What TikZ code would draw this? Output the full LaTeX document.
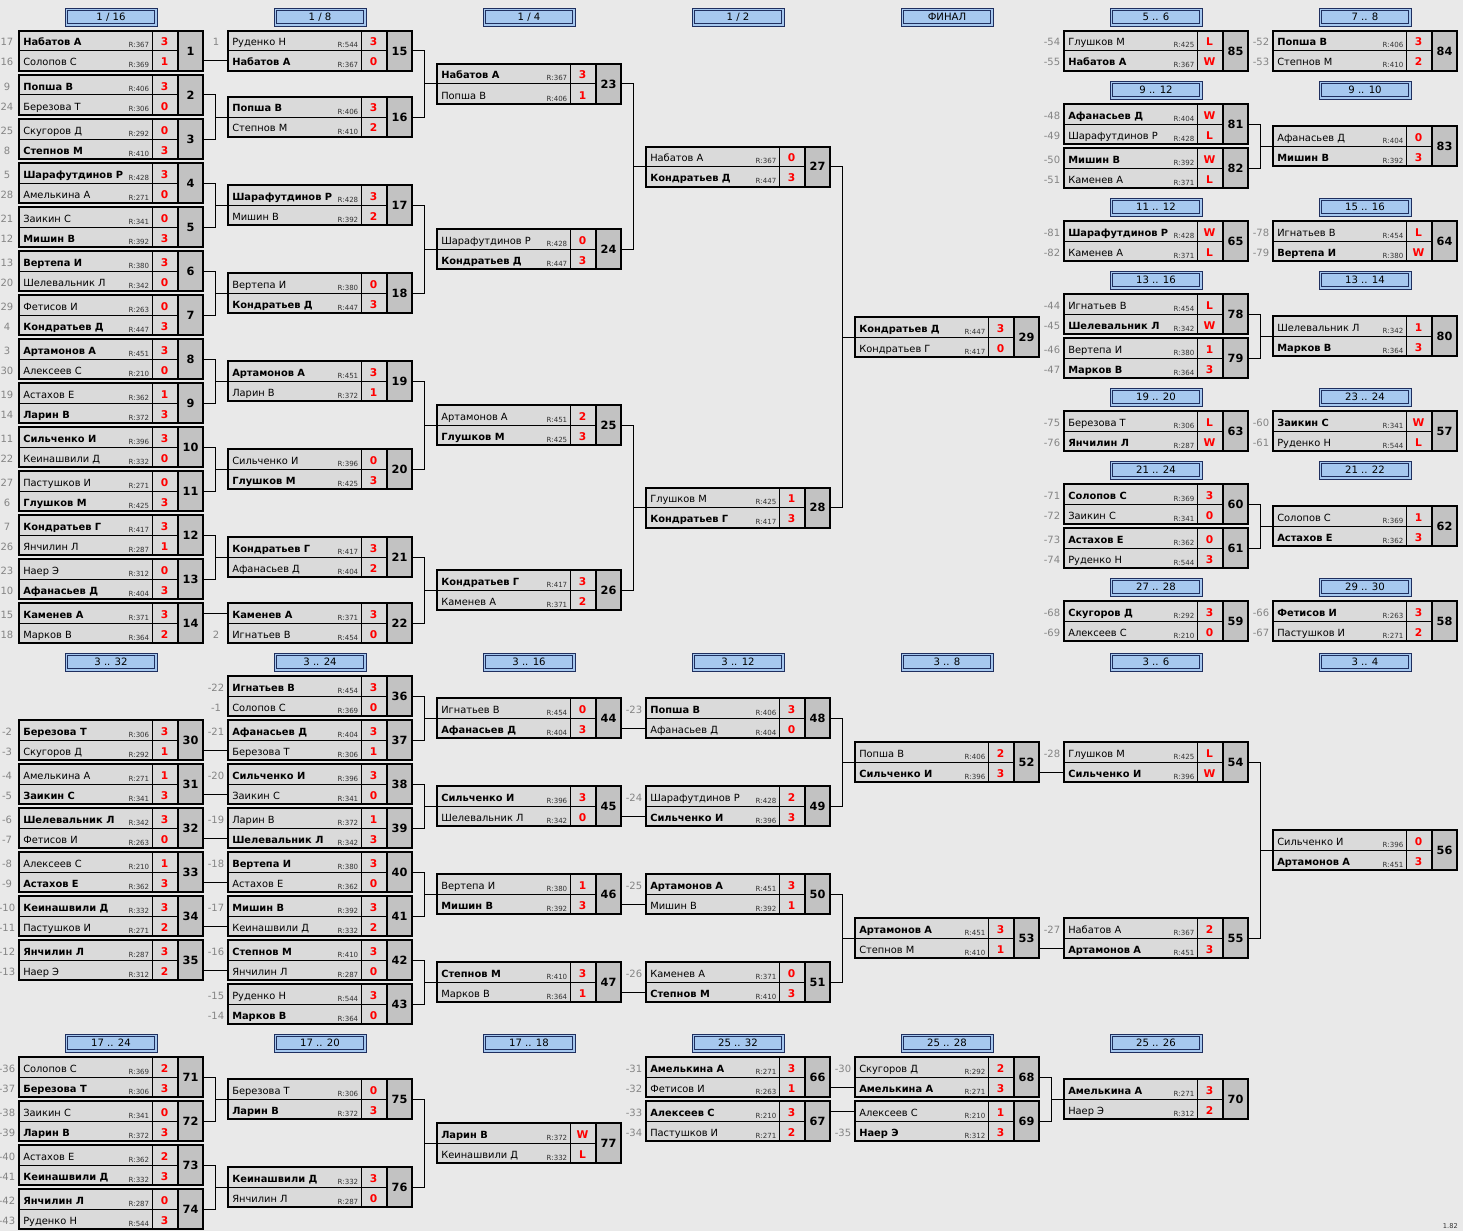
\documentclass[tikz,border=0pt]{standalone}
\usepackage{fontspec}
\setmainfont{DejaVu Sans}
\definecolor{bgc}{HTML}{E9E9E9}
\definecolor{rowc}{HTML}{DADADA}
\definecolor{numc}{HTML}{C2C2C2}
\definecolor{hdrfill}{HTML}{A6C8EF}
\definecolor{hdrline}{HTML}{1F2F5F}
\definecolor{lblc}{HTML}{858585}
\definecolor{rtc}{HTML}{333333}
\definecolor{scc}{HTML}{FF0000}
\tikzset{
  nm/.style={anchor=base west, inner sep=0pt, font=\fontsize{7.4}{9}\selectfont},
  nmb/.style={anchor=base west, inner sep=0pt, font=\fontsize{7.4}{9}\selectfont\bfseries},
  rt/.style={anchor=base east, inner sep=0pt, text=rtc, font=\fontsize{5.3}{6}\selectfont},
  sc/.style={anchor=base, inner sep=0pt, text=scc, font=\fontsize{8}{9}\selectfont\bfseries},
  numtxt/.style={anchor=center, inner sep=0pt, font=\fontsize{8.5}{9}\selectfont\bfseries},
  lb/.style={anchor=base, inner sep=0pt, text=lblc, font=\fontsize{7.5}{9}\selectfont},
  hd/.style={anchor=center, inner sep=0pt, font=\fontsize{7.6}{9}\selectfont},
  conn/.style={line width=0.75pt},
  thin/.style={line width=0.75pt},
  thick/.style={line width=1.5pt},
}
% row: #1 top, #2 prefix, #3 style, #4 label, #5 name, #6 rating, #7 score
\newcommand\mrow[7]{%
  \node[#3] (#2n) at (4,#1+15) {#5};
  \node[rt] (#2r) at (130.5,#1+17) {R:#6};
  \node[sc] (#2s) at (145.5,#1+15) {#7};
  \if\relax\detokenize{#4}\relax\else\node[lb] (#2l) at (-12,#1+15) {#4};\fi
}
% match: #1 x, #2 y, #3 number, #4 row1 spec, #5 row2 spec
\newcommand\mt[5]{%
  \begin{scope}[shift={(#1,#2)}]
    \fill[rowc] (0,0) rectangle (159,40);
    \fill[numc] (159,0) rectangle (184,40);
    \draw[thin] (0,20) -- (159,20) (133,0) -- (133,40);
    \draw[thick] (159,0) -- (159,40);
    \draw[thick] (0,0) rectangle (184,40);
    \node[numtxt] (m#3) at (171.5,20) {#3};
    \coordinate (m#3o) at (184,20);
    \coordinate (m#3a) at (0,10);
    \coordinate (m#3b) at (0,30);
    \coordinate (m#3c) at (0,20);
    \mrow{0}{m#3t}#4
    \mrow{20}{m#3u}#5
  \end{scope}}
% header: #1 name, #2 cx, #3 cy, #4 text
\newcommand\hdr[4]{%
  \fill[hdrfill] (#2-46,#3-9) rectangle (#2+46,#3+9);
  \draw[hdrline, line width=0.7pt] (#2-46,#3-9) rectangle (#2+46,#3+9);
  \draw[hdrline, line width=0.7pt] (#2-43.5,#3-6.5) rectangle (#2+43.5,#3+6.5);
  \node[hd] (#1) at (#2,#3) {#4};}
% pair join
\newcommand\pj[3]{%
  \draw[conn] (m#1o) -- ++(12.5,0) |- (m#3c);
  \draw[conn] (m#2o) -- ++(12.5,0) |- (m#3c);}
% single straight join: source, row (a/b), target
\newcommand\sj[3]{\draw[conn] (m#3#2 -| m#1o) -- (m#3#2);}

\begin{document}
\begin{tikzpicture}[x=0.75pt,y=-0.75pt]
\fill[bgc] (0,0) rectangle (1463,1231);
\useasboundingbox (0,0) rectangle (1463,1231);

% headers
\hdr{h1}{111}{17}{1 / 16}
\hdr{h2}{320}{17}{1 / 8}
\hdr{h3}{529}{17}{1 / 4}
\hdr{h4}{738}{17}{1 / 2}
\hdr{h5}{947}{17}{ФИНАЛ}
\hdr{h6}{1156}{17}{5 .. 6}
\hdr{h7}{1365}{17}{7 .. 8}
\hdr{h8}{1156}{90}{9 .. 12}
\hdr{h9}{1365}{90}{9 .. 10}
\hdr{h10}{1156}{207}{11 .. 12}
\hdr{h11}{1365}{207}{15 .. 16}
\hdr{h12}{1156}{280}{13 .. 16}
\hdr{h13}{1365}{280}{13 .. 14}
\hdr{h14}{1156}{397}{19 .. 20}
\hdr{h15}{1365}{397}{23 .. 24}
\hdr{h16}{1156}{470}{21 .. 24}
\hdr{h17}{1365}{470}{21 .. 22}
\hdr{h18}{1156}{587}{27 .. 28}
\hdr{h19}{1365}{587}{29 .. 30}
\hdr{h20}{111}{662}{3 .. 32}
\hdr{h21}{320}{662}{3 .. 24}
\hdr{h22}{529}{662}{3 .. 16}
\hdr{h23}{738}{662}{3 .. 12}
\hdr{h24}{947}{662}{3 .. 8}
\hdr{h25}{1156}{662}{3 .. 6}
\hdr{h26}{1365}{662}{3 .. 4}
\hdr{h27}{111}{1043}{17 .. 24}
\hdr{h28}{320}{1043}{17 .. 20}
\hdr{h29}{529}{1043}{17 .. 18}
\hdr{h30}{738}{1043}{25 .. 32}
\hdr{h31}{947}{1043}{25 .. 28}
\hdr{h32}{1156}{1043}{25 .. 26}

% main bracket column 1
\mt{19}{31}{1}{{nmb}{17}{Набатов А}{367}{3}}{{nm}{16}{Солопов С}{369}{1}}
\mt{19}{75}{2}{{nmb}{9}{Попша В}{406}{3}}{{nm}{24}{Березова Т}{306}{0}}
\mt{19}{119}{3}{{nm}{25}{Скугоров Д}{292}{0}}{{nmb}{8}{Степнов М}{410}{3}}
\mt{19}{163}{4}{{nmb}{5}{Шарафутдинов Р}{428}{3}}{{nm}{28}{Амелькина А}{271}{0}}
\mt{19}{207}{5}{{nm}{21}{Заикин С}{341}{0}}{{nmb}{12}{Мишин В}{392}{3}}
\mt{19}{251}{6}{{nmb}{13}{Вертепа И}{380}{3}}{{nm}{20}{Шелевальник Л}{342}{0}}
\mt{19}{295}{7}{{nm}{29}{Фетисов И}{263}{0}}{{nmb}{4}{Кондратьев Д}{447}{3}}
\mt{19}{339}{8}{{nmb}{3}{Артамонов А}{451}{3}}{{nm}{30}{Алексеев С}{210}{0}}
\mt{19}{383}{9}{{nm}{19}{Астахов Е}{362}{1}}{{nmb}{14}{Ларин В}{372}{3}}
\mt{19}{427}{10}{{nmb}{11}{Сильченко И}{396}{3}}{{nm}{22}{Кеинашвили Д}{332}{0}}
\mt{19}{471}{11}{{nm}{27}{Пастушков И}{271}{0}}{{nmb}{6}{Глушков М}{425}{3}}
\mt{19}{515}{12}{{nmb}{7}{Кондратьев Г}{417}{3}}{{nm}{26}{Янчилин Л}{287}{1}}
\mt{19}{559}{13}{{nm}{23}{Наер Э}{312}{0}}{{nmb}{10}{Афанасьев Д}{404}{3}}
\mt{19}{603}{14}{{nmb}{15}{Каменев А}{371}{3}}{{nm}{18}{Марков В}{364}{2}}
% column 2
\mt{228}{31}{15}{{nm}{1}{Руденко Н}{544}{3}}{{nmb}{}{Набатов А}{367}{0}}
\mt{228}{97}{16}{{nmb}{}{Попша В}{406}{3}}{{nm}{}{Степнов М}{410}{2}}
\mt{228}{185}{17}{{nmb}{}{Шарафутдинов Р}{428}{3}}{{nm}{}{Мишин В}{392}{2}}
\mt{228}{273}{18}{{nm}{}{Вертепа И}{380}{0}}{{nmb}{}{Кондратьев Д}{447}{3}}
\mt{228}{361}{19}{{nmb}{}{Артамонов А}{451}{3}}{{nm}{}{Ларин В}{372}{1}}
\mt{228}{449}{20}{{nm}{}{Сильченко И}{396}{0}}{{nmb}{}{Глушков М}{425}{3}}
\mt{228}{537}{21}{{nmb}{}{Кондратьев Г}{417}{3}}{{nm}{}{Афанасьев Д}{404}{2}}
\mt{228}{603}{22}{{nmb}{}{Каменев А}{371}{3}}{{nm}{2}{Игнатьев В}{454}{0}}
% column 3
\mt{437}{64}{23}{{nmb}{}{Набатов А}{367}{3}}{{nm}{}{Попша В}{406}{1}}
\mt{437}{229}{24}{{nm}{}{Шарафутдинов Р}{428}{0}}{{nmb}{}{Кондратьев Д}{447}{3}}
\mt{437}{405}{25}{{nm}{}{Артамонов А}{451}{2}}{{nmb}{}{Глушков М}{425}{3}}
\mt{437}{570}{26}{{nmb}{}{Кондратьев Г}{417}{3}}{{nm}{}{Каменев А}{371}{2}}
% column 4
\mt{646}{146.5}{27}{{nm}{}{Набатов А}{367}{0}}{{nmb}{}{Кондратьев Д}{447}{3}}
\mt{646}{487.5}{28}{{nm}{}{Глушков М}{425}{1}}{{nmb}{}{Кондратьев Г}{417}{3}}
% final
\mt{855}{317}{29}{{nmb}{}{Кондратьев Д}{447}{3}}{{nm}{}{Кондратьев Г}{417}{0}}

% right side column 6
\mt{1064}{31}{85}{{nm}{-54}{Глушков М}{425}{L}}{{nmb}{-55}{Набатов А}{367}{W}}
\mt{1064}{104}{81}{{nmb}{-48}{Афанасьев Д}{404}{W}}{{nm}{-49}{Шарафутдинов Р}{428}{L}}
\mt{1064}{148}{82}{{nmb}{-50}{Мишин В}{392}{W}}{{nm}{-51}{Каменев А}{371}{L}}
\mt{1064}{221}{65}{{nmb}{-81}{Шарафутдинов Р}{428}{W}}{{nm}{-82}{Каменев А}{371}{L}}
\mt{1064}{294}{78}{{nm}{-44}{Игнатьев В}{454}{L}}{{nmb}{-45}{Шелевальник Л}{342}{W}}
\mt{1064}{338}{79}{{nm}{-46}{Вертепа И}{380}{1}}{{nmb}{-47}{Марков В}{364}{3}}
\mt{1064}{411}{63}{{nm}{-75}{Березова Т}{306}{L}}{{nmb}{-76}{Янчилин Л}{287}{W}}
\mt{1064}{484}{60}{{nmb}{-71}{Солопов С}{369}{3}}{{nm}{-72}{Заикин С}{341}{0}}
\mt{1064}{528}{61}{{nmb}{-73}{Астахов Е}{362}{0}}{{nm}{-74}{Руденко Н}{544}{3}}
\mt{1064}{601}{59}{{nmb}{-68}{Скугоров Д}{292}{3}}{{nm}{-69}{Алексеев С}{210}{0}}
% right side column 7
\mt{1273}{31}{84}{{nmb}{-52}{Попша В}{406}{3}}{{nm}{-53}{Степнов М}{410}{2}}
\mt{1273}{126}{83}{{nm}{}{Афанасьев Д}{404}{0}}{{nmb}{}{Мишин В}{392}{3}}
\mt{1273}{221}{64}{{nm}{-78}{Игнатьев В}{454}{L}}{{nmb}{-79}{Вертепа И}{380}{W}}
\mt{1273}{316}{80}{{nm}{}{Шелевальник Л}{342}{1}}{{nmb}{}{Марков В}{364}{3}}
\mt{1273}{411}{57}{{nmb}{-60}{Заикин С}{341}{W}}{{nm}{-61}{Руденко Н}{544}{L}}
\mt{1273}{506}{62}{{nm}{}{Солопов С}{369}{1}}{{nmb}{}{Астахов Е}{362}{3}}
\mt{1273}{601}{58}{{nmb}{-66}{Фетисов И}{263}{3}}{{nm}{-67}{Пастушков И}{271}{2}}

% consolation 3..32
\mt{19}{720}{30}{{nmb}{-2}{Березова Т}{306}{3}}{{nm}{-3}{Скугоров Д}{292}{1}}
\mt{19}{764}{31}{{nm}{-4}{Амелькина А}{271}{1}}{{nmb}{-5}{Заикин С}{341}{3}}
\mt{19}{808}{32}{{nmb}{-6}{Шелевальник Л}{342}{3}}{{nm}{-7}{Фетисов И}{263}{0}}
\mt{19}{852}{33}{{nm}{-8}{Алексеев С}{210}{1}}{{nmb}{-9}{Астахов Е}{362}{3}}
\mt{19}{896}{34}{{nmb}{-10}{Кеинашвили Д}{332}{3}}{{nm}{-11}{Пастушков И}{271}{2}}
\mt{19}{940}{35}{{nmb}{-12}{Янчилин Л}{287}{3}}{{nm}{-13}{Наер Э}{312}{2}}
% 3..24
\mt{228}{676}{36}{{nmb}{-22}{Игнатьев В}{454}{3}}{{nm}{-1}{Солопов С}{369}{0}}
\mt{228}{720}{37}{{nmb}{-21}{Афанасьев Д}{404}{3}}{{nm}{}{Березова Т}{306}{1}}
\mt{228}{764}{38}{{nmb}{-20}{Сильченко И}{396}{3}}{{nm}{}{Заикин С}{341}{0}}
\mt{228}{808}{39}{{nm}{-19}{Ларин В}{372}{1}}{{nmb}{}{Шелевальник Л}{342}{3}}
\mt{228}{852}{40}{{nmb}{-18}{Вертепа И}{380}{3}}{{nm}{}{Астахов Е}{362}{0}}
\mt{228}{896}{41}{{nmb}{-17}{Мишин В}{392}{3}}{{nm}{}{Кеинашвили Д}{332}{2}}
\mt{228}{940}{42}{{nmb}{-16}{Степнов М}{410}{3}}{{nm}{}{Янчилин Л}{287}{0}}
\mt{228}{984}{43}{{nm}{-15}{Руденко Н}{544}{3}}{{nmb}{-14}{Марков В}{364}{0}}
% 3..16
\mt{437}{698}{44}{{nm}{}{Игнатьев В}{454}{0}}{{nmb}{}{Афанасьев Д}{404}{3}}
\mt{437}{786}{45}{{nmb}{}{Сильченко И}{396}{3}}{{nm}{}{Шелевальник Л}{342}{0}}
\mt{437}{874}{46}{{nm}{}{Вертепа И}{380}{1}}{{nmb}{}{Мишин В}{392}{3}}
\mt{437}{962}{47}{{nmb}{}{Степнов М}{410}{3}}{{nm}{}{Марков В}{364}{1}}
% 3..12
\mt{646}{698}{48}{{nmb}{-23}{Попша В}{406}{3}}{{nm}{}{Афанасьев Д}{404}{0}}
\mt{646}{786}{49}{{nm}{-24}{Шарафутдинов Р}{428}{2}}{{nmb}{}{Сильченко И}{396}{3}}
\mt{646}{874}{50}{{nmb}{-25}{Артамонов А}{451}{3}}{{nm}{}{Мишин В}{392}{1}}
\mt{646}{962}{51}{{nm}{-26}{Каменев А}{371}{0}}{{nmb}{}{Степнов М}{410}{3}}
% 3..8
\mt{855}{742}{52}{{nm}{}{Попша В}{406}{2}}{{nmb}{}{Сильченко И}{396}{3}}
\mt{855}{918}{53}{{nmb}{}{Артамонов А}{451}{3}}{{nm}{}{Степнов М}{410}{1}}
% 3..6
\mt{1064}{742}{54}{{nm}{-28}{Глушков М}{425}{L}}{{nmb}{}{Сильченко И}{396}{W}}
\mt{1064}{918}{55}{{nm}{-27}{Набатов А}{367}{2}}{{nmb}{}{Артамонов А}{451}{3}}
% 3..4
\mt{1273}{830}{56}{{nm}{}{Сильченко И}{396}{0}}{{nmb}{}{Артамонов А}{451}{3}}

% lower section
\mt{19}{1057}{71}{{nm}{-36}{Солопов С}{369}{2}}{{nmb}{-37}{Березова Т}{306}{3}}
\mt{19}{1101}{72}{{nm}{-38}{Заикин С}{341}{0}}{{nmb}{-39}{Ларин В}{372}{3}}
\mt{19}{1145}{73}{{nm}{-40}{Астахов Е}{362}{2}}{{nmb}{-41}{Кеинашвили Д}{332}{3}}
\mt{19}{1189}{74}{{nmb}{-42}{Янчилин Л}{287}{0}}{{nm}{-43}{Руденко Н}{544}{3}}
\mt{228}{1079}{75}{{nm}{}{Березова Т}{306}{0}}{{nmb}{}{Ларин В}{372}{3}}
\mt{228}{1167}{76}{{nmb}{}{Кеинашвили Д}{332}{3}}{{nm}{}{Янчилин Л}{287}{0}}
\mt{437}{1123}{77}{{nmb}{}{Ларин В}{372}{W}}{{nm}{}{Кеинашвили Д}{332}{L}}
\mt{646}{1057}{66}{{nmb}{-31}{Амелькина А}{271}{3}}{{nm}{-32}{Фетисов И}{263}{1}}
\mt{646}{1101}{67}{{nmb}{-33}{Алексеев С}{210}{3}}{{nm}{-34}{Пастушков И}{271}{2}}
\mt{855}{1057}{68}{{nm}{-30}{Скугоров Д}{292}{2}}{{nmb}{}{Амелькина А}{271}{3}}
\mt{855}{1101}{69}{{nm}{}{Алексеев С}{210}{1}}{{nmb}{-35}{Наер Э}{312}{3}}
\mt{1064}{1079}{70}{{nmb}{}{Амелькина А}{271}{3}}{{nm}{}{Наер Э}{312}{2}}

% connectors main
\sj{1}{b}{15}
\pj{2}{3}{16}
\pj{4}{5}{17}
\pj{6}{7}{18}
\pj{8}{9}{19}
\pj{10}{11}{20}
\pj{12}{13}{21}
\sj{14}{a}{22}
\pj{15}{16}{23}
\pj{17}{18}{24}
\pj{19}{20}{25}
\pj{21}{22}{26}
\pj{23}{24}{27}
\pj{25}{26}{28}
\pj{27}{28}{29}
% right side
\pj{81}{82}{83}
\pj{78}{79}{80}
\pj{60}{61}{62}
% consolation
\sj{30}{b}{37}
\sj{31}{b}{38}
\sj{32}{b}{39}
\sj{33}{b}{40}
\sj{34}{b}{41}
\sj{35}{b}{42}
\pj{36}{37}{44}
\pj{38}{39}{45}
\pj{40}{41}{46}
\pj{42}{43}{47}
\sj{44}{b}{48}
\sj{45}{b}{49}
\sj{46}{b}{50}
\sj{47}{b}{51}
\pj{48}{49}{52}
\pj{50}{51}{53}
\sj{52}{b}{54}
\sj{53}{b}{55}
\pj{54}{55}{56}
% lower
\pj{71}{72}{75}
\pj{73}{74}{76}
\pj{75}{76}{77}
\sj{66}{b}{68}
\sj{67}{a}{69}
\pj{68}{69}{70}

\node[anchor=base east, inner sep=0pt, text=rtc, font=\fontsize{5}{6}\selectfont] (ver) at (1458,1228) {1.82};
\end{tikzpicture}
\end{document}
